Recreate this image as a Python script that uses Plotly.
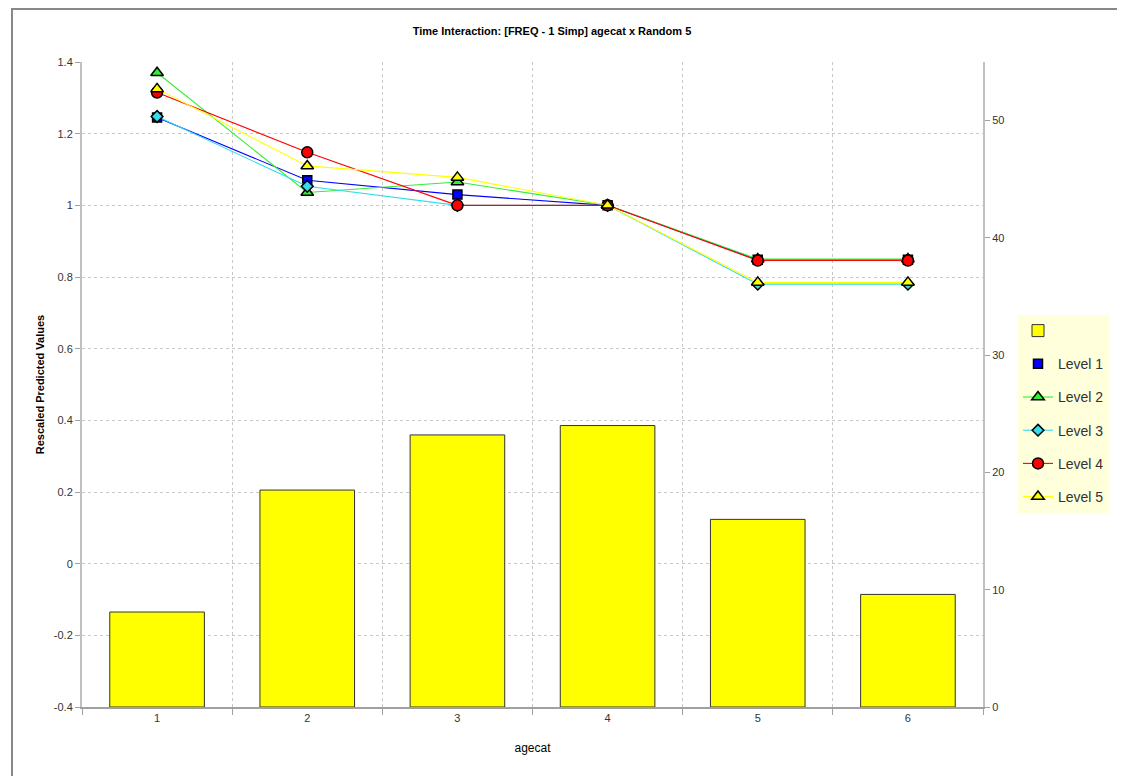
import plotly.graph_objects as go

agecat = [1, 2, 3, 4, 5, 6]
tick_labels = ["1", "2", "3", "4", "5", "6"]
exposure = [8.1, 18.5, 23.2, 24.0, 16.0, 9.6]
level1 = [1.245, 1.07, 1.03, 1.0, 0.848, 0.848]
level2 = [1.37, 1.036, 1.065, 1.0, 0.85, 0.85]
level3 = [1.248, 1.053, 1.0, 1.0, 0.78, 0.78]
level4 = [1.315, 1.148, 1.0, 1.0, 0.846, 0.846]
level5 = [1.325, 1.11, 1.078, 1.0, 0.785, 0.785]
left_ticks = [-0.4, -0.2, 0, 0.2, 0.4, 0.6, 0.8, 1, 1.2, 1.4]
left_labels = ["-0.4", "-0.2", "0", "0.2", "0.4", "0.6", "0.8", "1", "1.2", "1.4"]
right_ticks = [0, 10, 20, 30, 40, 50]

L_MIN, L_MAX = -0.4, 1.4
R_MIN, R_MAX = 0, 55

font_main = "Liberation Sans Narrow, Liberation Sans, Arial, sans-serif"
tick_font = dict(family="Liberation Sans, Arial, sans-serif", size=11, color="#333333")

ML, MR, MT, MB = 74, 150, 54, 77
W, H = 1125, 776
PW, PH = W - ML - MR, H - MT - MB

fig = go.Figure()

fig.add_trace(go.Bar(
    x=agecat, y=exposure, name=" ", yaxis="y", width=0.63,
    marker=dict(color="#FFFF00", line=dict(color="#333333", width=1)),
    legendgroup="g0",
))

levels = [
    ("Level 1", level1, "#0000FF", "square", 9),
    ("Level 2", level2, "#33EE33", "triangle-up", 11),
    ("Level 3", level3, "#33DDEE", "diamond", 9),
    ("Level 4", level4, "#FF0000", "circle", 11),
    ("Level 5", level5, "#FFFF00", "triangle-up", 11),
]
for i, (name, vals, col, sym, sz) in enumerate(levels):
    mk = dict(symbol=sym, size=sz, color=col, line=dict(color="#000000", width=1.5))
    if i == 0:
        fig.add_trace(go.Scatter(
            x=agecat, y=vals, yaxis="y2", mode="lines", name=name,
            line=dict(color=col, width=1.1), showlegend=False, legendgroup=f"g{i+1}",
        ))
        fig.add_trace(go.Scatter(
            x=agecat, y=vals, yaxis="y2", mode="markers", name=name,
            marker=mk, legendgroup=f"g{i+1}",
        ))
    else:
        fig.add_trace(go.Scatter(
            x=agecat, y=vals, yaxis="y2", mode="lines+markers", name=name,
            line=dict(color=col, width=1.1), marker=mk, legendgroup=f"g{i+1}",
        ))

grid_vals = [(v - L_MIN) * (R_MAX - R_MIN) / (L_MAX - L_MIN) + R_MIN for v in left_ticks]

fig.update_layout(
    width=W, height=H,
    paper_bgcolor="white", plot_bgcolor="white",
    margin=dict(l=ML, r=MR, t=MT, b=MB),
    showlegend=True,
    title=dict(
        text="<b>Time Interaction: [FREQ - 1 Simp] agecat x Random 5</b>",
        x=544 / W, xanchor="center", y=1 - 23 / H, yanchor="middle",
        font=dict(family=font_main, size=11, color="#000000"),
    ),
    xaxis=dict(
        range=[0.5, 6.5], tickvals=agecat, ticktext=tick_labels,
        showgrid=False, ticks="", tickfont=tick_font,
        showline=True, linecolor="#A0A0A0", linewidth=2,
        zeroline=False,
        minor=dict(tickvals=[0.5, 1.5, 2.5, 3.5, 4.5, 5.5, 6.5], showgrid=True,
                   gridcolor="#C8C8C8", griddash="dot", gridwidth=1,
                   ticks="outside", ticklen=6, tickcolor="#A0A0A0"),
        title=dict(text="agecat", font=dict(family=font_main, size=12, color="#000000"),
                   standoff=20),
    ),
    yaxis=dict(
        side="right", range=[R_MIN, R_MAX], tickvals=right_ticks,
        showgrid=False, zeroline=False, ticks="outside", ticklen=5,
        tickcolor="#A0A0A0", tickfont=tick_font,
        showline=True, linecolor="#C0C0C0", linewidth=2,
        minor=dict(tickvals=grid_vals, showgrid=True, gridcolor="#C8C8C8",
                   griddash="dot", gridwidth=1, ticks=""),
    ),
    yaxis2=dict(
        overlaying="y", side="left", range=[L_MIN, L_MAX],
        tickvals=left_ticks, ticktext=left_labels,
        showgrid=False, zeroline=False, ticks="outside", ticklen=5,
        tickcolor="#A0A0A0", tickfont=tick_font,
        showline=True, linecolor="#C0C0C0", linewidth=2,
        title=dict(text="<b>Rescaled Predicted Values</b>",
                   font=dict(family=font_main, size=11, color="#000000"), standoff=7),
    ),
    legend=dict(
        x=(1010 - ML) / PW, xanchor="left", y=(MT + PH - 307) / PH, yanchor="top",
        bgcolor="#FFFFDC", borderwidth=0,
        font=dict(family="Liberation Sans, Arial, sans-serif", size=14, color="#333333"),
        traceorder="grouped", tracegroupgap=12,
        itemwidth=30,
    ),
    shapes=[dict(
        type="rect", xref="paper", yref="paper",
        x0=(4 - ML) / PW, x1=(1113 - ML) / PW,
        y0=-0.3, y1=(MT + PH - 1) / PH,
        line=dict(color="#888888", width=2), fillcolor="rgba(0,0,0,0)", layer="below",
    )],
)

fig.write_html("out.html")
